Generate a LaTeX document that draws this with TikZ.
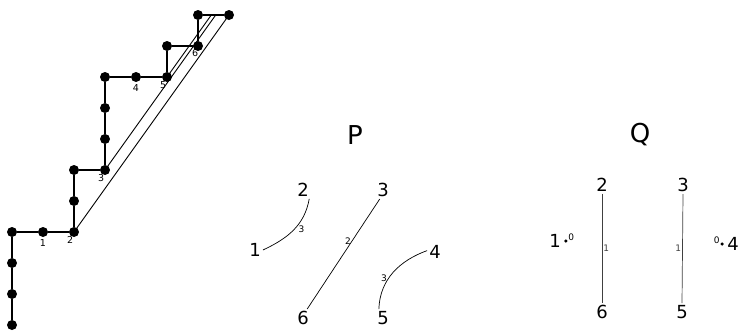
\documentclass[tikz,border=0pt]{standalone}
\usepackage{fontspec}
\setmainfont{DejaVu Sans}
\usetikzlibrary{positioning}

\tikzset{
  dot/.style={circle,fill=black,inner sep=0pt,minimum size=10pt},
  steplbl/.style={font=\fontsize{9.5}{9.5}\selectfont,inner sep=1pt},
  vert/.style={font=\fontsize{18}{18}\selectfont,inner sep=2pt},
  title/.style={font=\fontsize{26}{26}\selectfont},
  arclbl/.style={font=\fontsize{9}{9}\selectfont,inner sep=1pt},
  chord/.style={line width=0.7pt},
  qchord/.style={line width=0.7pt,black!75},
  loopdot/.style={circle,fill=black,inner sep=0pt,minimum size=3.5pt}
}

\begin{document}
\begin{tikzpicture}[x=1pt,y=-1pt]
\useasboundingbox (0,0) rectangle (738,330);

% the lattice path
\begin{scope}[shift={(12,325)},x=31pt,y=31pt]
\foreach \a/\b [count=\i from 0] in {0/0,0/1,0/2,0/3,1/3,2/3,2/4,2/5,3/5,3/6,3/7,3/8,4/8,5/8,5/9,6/9,6/10,7/10}
  \node[dot] (v\i) at (\a,\b) {};
\foreach \i [count=\j from 0] in {1,...,17}
  \draw[line width=2pt] (v\j) -- (v\i);

\coordinate (t3) at (3+25/7,10);
\coordinate (t5) at (5+10/7,10);
\draw[line width=0.9pt] (v5.center) -- (v17.center);
\draw[line width=0.9pt] (v8.center) -- (t3);
\draw[line width=0.9pt] (v13.center) -- (t5);

\node[steplbl,below=1pt of v4] {1};
\node[steplbl,below left=0pt and -4pt of v5] {2};
\node[steplbl,below left=0pt and -4pt of v8] {3};
\node[steplbl,below=1pt of v12] {4};
\node[steplbl,below left=0pt and -4pt of v13] {5};
\node[steplbl,below left=-1pt and -5pt of v15] {6};
\end{scope}

% P
\node[title] (ptitle) at (355,135) {P};
\node[vert] (p1) at (255,250) {1};
\node[vert] (p2) at (303,190) {2};
\node[vert] (p3) at (383,190) {3};
\node[vert] (p4) at (435,252) {4};
\node[vert] (p5) at (383,318) {5};
\node[vert] (p6) at (303,318) {6};
\draw[chord] (p1.east) to[out=25,in=-100] node[arclbl,pos=0.6,below right=-1pt]{3} (p2.-55);
\draw[chord] (p3.-110) -- node[arclbl,pos=0.38,left]{2} (p6.65);
\draw[chord] (p4.170) to[out=200,in=88] node[arclbl,pos=0.6,left]{3} (p5.115);

% Q
\node[title] (qtitle) at (640,135) {Q};
\node[vert] (q1) at (555,241) {1};
\node[vert] (q2) at (602,185) {2};
\node[vert] (q3) at (683,185) {3};
\node[vert] (q4) at (733,244) {4};
\node[vert] (q5) at (682,312) {5};
\node[vert] (q6) at (602,312) {6};
\draw[qchord] (q2.south) -- node[arclbl,right]{1} (q6.north);
\draw[qchord] (q3.south) -- node[arclbl,left]{1} (q5.north);
\node[loopdot,right=1pt of q1] (q1d) {};
\node[arclbl,above right=-2pt and 0pt of q1d] {0};
\node[loopdot,left=1pt of q4] (q4d) {};
\node[arclbl,above left=-2pt and 0pt of q4d] {0};

\end{tikzpicture}
\end{document}
